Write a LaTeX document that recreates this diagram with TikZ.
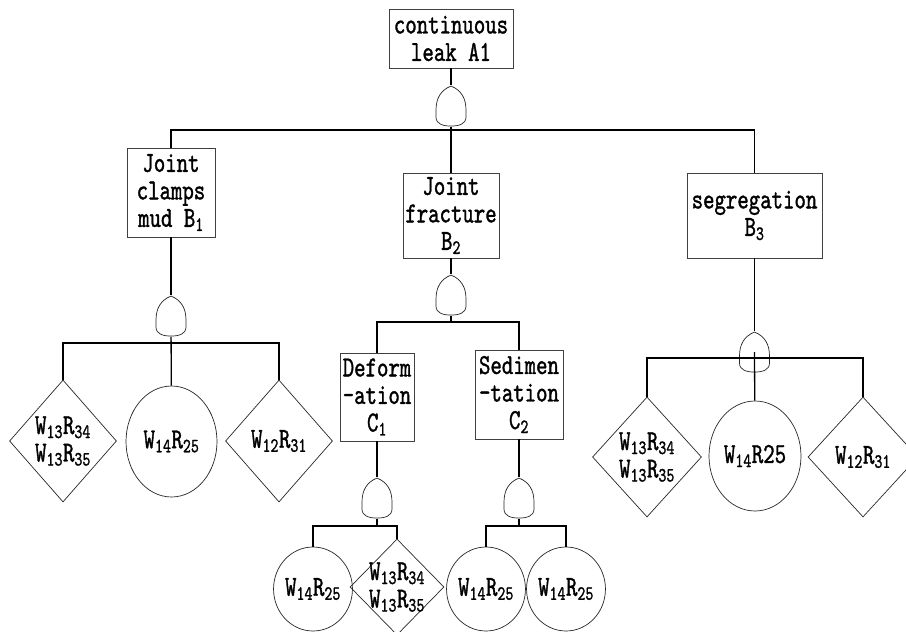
\documentclass[tikz,border=0pt]{standalone}
\usepackage{fontspec}
\newfontfamily\treefont[FakeStretch=0.75, FakeBold=1.2]{lmmono10-regular.otf}
\usetikzlibrary{positioning,shapes.geometric}
\newcommand{\zw}[1]{\makebox[0pt]{#1}}
\newcommand{\WR}[2]{W\textsubscript{#1}R\textsubscript{#2}}

\begin{document}
\begin{tikzpicture}[
    x=1pt, y=-1pt,
    txt/.style={font=\treefont\fontsize{29}{27.5}\selectfont, align=center, inner sep=0pt},
    box/.style={txt, draw=black!75, line width=0.7pt},
    basic/.style={txt, ellipse, draw=black!85, line width=0.7pt},
    undev/.style={txt, diamond, draw=black!85, line width=0.7pt},
    gate/.style={minimum width=30pt, minimum height=41pt, inner sep=0pt},
    gateline/.style={draw=black!85, line width=0.7pt},
    link/.style={line width=1.3pt},
    bar/.style={line width=1.7pt}
  ]
    \useasboundingbox (0,0) rectangle (906,632);
    % top event
    \node[box, minimum width=124pt, minimum height=59pt] (A) at (451,38.5) {continuous\\leak A1};
    \node[gate, below=17pt of A] (gA) {};
    \coordinate[below=3pt of gA] (jA);
    % second level
    \node[box, minimum width=88pt, minimum height=89pt] (B1) at (171,192.5) {Joint\\clamps\\mud B\textsubscript{1}};
    \node[box, minimum width=96pt, minimum height=85pt] (B2) at (451,215.5) {Joint\\fracture\\B\textsubscript{2}};
    \node[box, minimum width=135pt, minimum height=85pt] (B3) at (754.5,215.5) {segregation\\B\textsubscript{3}};
    \node[gate, below=58pt of B1] (gB1) {};
    \node[gate, below=16pt of B2] (gB2) {};
    \node[gate, below=73pt of B3] (gB3) {};
    \coordinate[below=6pt of gB1] (jB1);
    \coordinate[below=6pt of gB2] (jB2);
    \coordinate[below=6pt of gB3.center] (jB3);
    % under B1
    \node[undev, minimum width=107pt, minimum height=122pt] (L1) at (63,441) {\zw{\WR{13}{34}}\\\zw{\WR{13}{35}}};
    \node[basic, minimum width=91pt, minimum height=111pt] (M1) at (171.5,441.5) {\WR{14}{25}};
    \node[undev, minimum width=107pt, minimum height=122pt] (R1) at (279,441) {\zw{\WR{12}{31}}};
    % under B2
    \node[box, minimum width=74pt, minimum height=88pt] (C1) at (377,397) {Deform\\-ation\\C\textsubscript{1}};
    \node[box, minimum width=88pt, minimum height=89pt] (C2) at (519,394.5) {Sedimen\\-tation\\C\textsubscript{2}};
    \node[gate, below=36pt of C1] (gC1) {};
    \node[gate, below=38pt of C2] (gC2) {};
    \coordinate[below=7pt of gC1] (jC1);
    \coordinate[below=7pt of gC2] (jC2);
    \node[basic, minimum width=68pt, minimum height=84pt] (D1) at (313,589) {\WR{14}{25}};
    \node[undev, minimum width=94pt, minimum height=96pt] (D2) at (397,587) {\zw{\WR{13}{34}}\\\zw{\WR{13}{35}}};
    \node[basic, minimum width=66pt, minimum height=84pt] (D3) at (486,589) {\WR{14}{25}};
    \node[basic, minimum width=68pt, minimum height=84pt] (D4) at (566,589) {\WR{14}{25}};
    % under B3
    \node[undev, minimum width=109pt, minimum height=120pt] (L3) at (647,457) {\zw{\WR{13}{34}}\\\zw{\WR{13}{35}}};
    \node[basic, minimum width=92pt, minimum height=110pt] (M3) at (755,456) {W\textsubscript{14}R25};
    \node[undev, minimum width=110pt, minimum height=120pt] (R3) at (863,457) {\zw{\WR{12}{31}}};
    % gate outlines
    \foreach \g in {gA,gB1,gB2,gB3,gC1,gC2}
      \draw[gateline, shift={(\g.center)}] (0,-20) .. controls (-10,-16) and (-15,-8) .. (-15,4)
        -- (-15,11) .. controls (-15,18) and (-8,20) .. (0,20)
        .. controls (8,20) and (15,18) .. (15,11) -- (15,4)
        .. controls (15,-8) and (10,-16) .. (0,-20) -- cycle;
    % connectors
    \draw[link] (A) -- (gA);
    \draw[link] (gA) -- (B2);
    \draw[bar] (B1.north) |- (jA) -| (B3.north);
    \draw[link] (B1) -- (gB1);
    \draw[link] (gB1) -- (M1);
    \draw[bar] (L1.north) |- (jB1) -| (R1.north);
    \draw[link] (B2) -- (gB2);
    \draw[link] (gB2) -- (jB2);
    \draw[bar] (C1.north) |- (jB2) -| (C2.north);
    \draw[link] (C1) -- (gC1);
    \draw[link] (gC1) -- (jC1);
    \draw[bar] (D1.north) |- (jC1) -| (D2.north);
    \draw[link] (C2) -- (gC2);
    \draw[link] (gC2) -- (jC2);
    \draw[bar] (D3.north) |- (jC2) -| (D4.north);
    \draw[link] (B3) -- (gB3);
    \draw[link] (gB3.center) -- (M3);
    \draw[bar] (L3.north) |- (jB3) -| (R3.north);
\end{tikzpicture}
\end{document}
